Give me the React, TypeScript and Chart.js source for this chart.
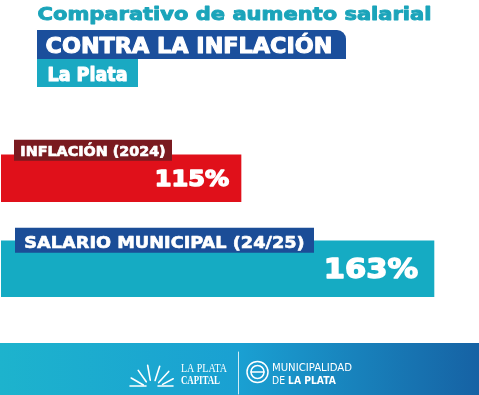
import React, { useEffect, useRef } from "react";
import { Chart, registerables } from "chart.js";

Chart.register(...registerables);

const categories = ["INFLACIÓN (2024)", "SALARIO MUNICIPAL (24/25)"];
const values = [115, 163];
const valueLabels = ["115%", "163%"];
const barColors = ["#e0101a", "#15abc3"];
const tagColors = ["#7a1a20", "#1b4d97"];
const titleLine = "Comparativo de aumento salarial";
const subtitleLine = "CONTRA LA INFLACIÓN";
const placeLine = "La Plata";

const W = 479;
const H = 395;

// Draw text with a given cap height, stretched/squeezed to a given width,
// optionally thickened with a stroke of the same colour.
function drawFitted(
  ctx: CanvasRenderingContext2D,
  text: string,
  x: number,
  baseline: number,
  targetW: number,
  capH: number,
  weight: string,
  family: string,
  align: "left" | "right" = "left",
  thicken = 0
) {
  ctx.save();
  ctx.font = `${weight} 100px ${family}`;
  const m = ctx.measureText("H");
  const capRatio = (m.actualBoundingBoxAscent || 72) / 100;
  const size = (capH - thicken) / capRatio;
  ctx.font = `${weight} ${size}px ${family}`;
  const w = ctx.measureText(text).width;
  const sx = (targetW - thicken) / w;
  ctx.textBaseline = "alphabetic";
  ctx.textAlign = "left";
  const left = (align === "left" ? x : x - targetW) + thicken / 2;
  ctx.translate(left, baseline - thicken / 2);
  ctx.scale(sx, 1);
  ctx.fillText(text, 0, 0);
  if (thicken > 0) {
    ctx.strokeStyle = ctx.fillStyle as string;
    ctx.lineWidth = thicken / sx;
    ctx.lineJoin = "round";
    ctx.strokeText(text, 0, 0);
  }
  ctx.restore();
}

const HEAVY = "'DejaVu Sans'";

const decorPlugin = {
  id: "decor",
  beforeDraw(chart: any) {
    const ctx: CanvasRenderingContext2D = chart.ctx;
    ctx.save();
    ctx.fillStyle = "#ffffff";
    ctx.fillRect(0, 0, W, H);

    // Title
    ctx.fillStyle = "#1ba4ba";
    drawFitted(ctx, titleLine, 37, 20.7, 395, 14.5, "bold", HEAVY, "left", 1.1);

    // Subtitle box
    ctx.fillStyle = "#1b4f9c";
    ctx.beginPath();
    (ctx as any).roundRect(37, 30, 309, 29, [0, 9, 0, 0]);
    ctx.fill();
    ctx.fillStyle = "#ffffff";
    drawFitted(ctx, subtitleLine, 45, 53.3, 288, 16, "bold", HEAVY, "left", 1.1);

    // Place box
    ctx.fillStyle = "#1aa9c2";
    ctx.fillRect(37, 59, 101, 28);
    ctx.fillStyle = "#ffffff";
    drawFitted(ctx, placeLine, 47, 81, 81, 15, "bold", HEAVY, "left", 1);

    // Footer band
    const g = ctx.createLinearGradient(0, 0, W, 0);
    g.addColorStop(0, "#1db3cd");
    g.addColorStop(0.5, "#1aa0d2");
    g.addColorStop(1, "#1662a4");
    ctx.fillStyle = g;
    ctx.fillRect(0, 343, W, H - 343);

    // Sun rays icon
    ctx.strokeStyle = "#ffffff";
    ctx.lineWidth = 1.6;
    ctx.lineCap = "round";
    const cx = 152, cy = 390;
    const rays = [
      [-150, 10, 24],
      [-125, 10, 24],
      [-100, 10, 25],
      [-72, 10, 25],
      [-48, 10, 25],
      [-28, 12, 24],
    ];
    rays.forEach(([a, r0, r1]) => {
      const rad = (a * Math.PI) / 180;
      ctx.beginPath();
      ctx.moveTo(cx + Math.cos(rad) * r0, cy + Math.sin(rad) * r0);
      ctx.lineTo(cx + Math.cos(rad) * r1, cy + Math.sin(rad) * r1);
      ctx.stroke();
    });
    ctx.beginPath();
    ctx.moveTo(130, 386);
    ctx.lineTo(146, 386);
    ctx.moveTo(158, 386);
    ctx.lineTo(173, 386);
    ctx.stroke();

    ctx.fillStyle = "#ffffff";
    drawFitted(ctx, "LA PLATA", 181, 371.5, 46, 7.5, "normal", "'Liberation Serif'");
    drawFitted(ctx, "CAPITAL", 181, 383.5, 39, 7.5, "bold", "'Liberation Serif'");

    // divider
    ctx.strokeStyle = "rgba(255,255,255,0.8)";
    ctx.lineWidth = 1;
    ctx.beginPath();
    ctx.moveTo(238.5, 352);
    ctx.lineTo(238.5, 394);
    ctx.stroke();

    // emblem
    ctx.strokeStyle = "#ffffff";
    ctx.lineWidth = 1.5;
    ctx.beginPath();
    ctx.arc(257.5, 372, 10.5, 0, Math.PI * 2);
    ctx.stroke();
    ctx.beginPath();
    ctx.arc(257.5, 372, 6.5, 0, Math.PI * 2);
    ctx.stroke();
    ctx.beginPath();
    ctx.moveTo(251, 372);
    ctx.lineTo(264, 372);
    ctx.stroke();

    drawFitted(ctx, "MUNICIPALIDAD", 272, 371, 80, 8, "normal", "'DejaVu Sans'");
    drawFitted(ctx, "DE", 272, 383.5, 13, 8, "normal", "'DejaVu Sans'");
    drawFitted(ctx, "LA PLATA", 288, 383.5, 48, 8, "bold", "'DejaVu Sans'");
    ctx.restore();
  },
  afterDatasetsDraw(chart: any) {
    const ctx: CanvasRenderingContext2D = chart.ctx;
    ctx.save();
    const tagSpec = [
      { left: 14, textW: 146, padX: 6, above: 15, h: 21, cap: 11.5, base: 16.7 },
      { left: 15, textW: 281, padX: 9, above: 13, h: 25, cap: 12.3, base: 20.3 },
    ];
    const valueSpec = [
      { w: 76, inset: 11, cap: 17.4, dy: 8.2 },
      { w: 96, inset: 15, cap: 21, dy: 10.3 },
    ];
    chart.data.datasets.forEach((ds: any, di: number) => {
      const meta = chart.getDatasetMeta(di);
      const bar = meta.data[di];
      if (!bar) return;
      const props = bar.getProps(["x", "y", "base", "height"], true);
      const top = props.y - props.height / 2;
      const t = tagSpec[di];
      const boxW = t.textW + t.padX * 2;
      ctx.fillStyle = tagColors[di];
      ctx.fillRect(t.left, top - t.above, boxW, t.h);
      ctx.fillStyle = "#ffffff";
      drawFitted(ctx, categories[di], t.left + t.padX, top - t.above + t.base, t.textW, t.cap, "bold", HEAVY, "left", 0.7);
      const v = valueSpec[di];
      drawFitted(ctx, valueLabels[di], props.x - v.inset, props.y + v.dy, v.w, v.cap, "bold", HEAVY, "right", 1.6);
    });
    ctx.restore();
  },
};

export default function App() {
  const ref = useRef<HTMLCanvasElement | null>(null);
  useEffect(() => {
    document.body.style.margin = "0";
    const canvas = ref.current!;
    const chart = new Chart(canvas, {
      type: "bar",
      data: {
        labels: categories,
        datasets: [
          {
            label: categories[0],
            data: [values[0], null],
            backgroundColor: barColors[0],
            barThickness: 47,
            grouped: false,
          } as any,
          {
            label: categories[1],
            data: [null, values[1]],
            backgroundColor: barColors[1],
            barThickness: 56,
            grouped: false,
          } as any,
        ],
      },
      options: {
        indexAxis: "y",
        animation: false,
        responsive: false,
        devicePixelRatio: 1,
        layout: { padding: { left: 1, right: 0, top: 133, bottom: 81 } },
        plugins: { legend: { display: false }, tooltip: { enabled: false }, title: { display: false } },
        scales: {
          x: { display: false, min: 55.3, max: 174.2 },
          y: { display: false },
        },
      },
      plugins: [decorPlugin],
    });
    return () => chart.destroy();
  }, []);
  return (
    <div style={{ width: W, height: H }}>
      <canvas ref={ref} width={W} height={H} style={{ display: "block" }} />
    </div>
  );
}
